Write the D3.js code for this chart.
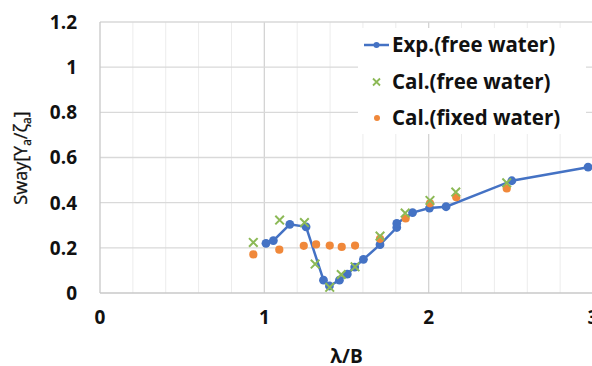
<!DOCTYPE html>
<html>
<head>
<meta charset="utf-8">
<script src="https://cdn.jsdelivr.net/npm/d3@7"></script>
<style>
  body { margin: 0; background: #fff; }
  svg text { font-family: "Open Sans", "Noto Sans", sans-serif; }
</style>
</head>
<body>
<div id="chart"></div>
<script>
// values
var expX = [1.01, 1.055, 1.155, 1.254, 1.36, 1.396, 1.457, 1.505, 1.55, 1.603, 1.704, 1.806, 1.806, 1.902, 2.005, 2.106, 2.506, 2.97]
var expY = [0.22, 0.232, 0.304, 0.293, 0.057, 0.031, 0.057, 0.084, 0.115, 0.149, 0.214, 0.29, 0.308, 0.356, 0.376, 0.382, 0.497, 0.557]

var calFreeX = [0.933, 1.093, 1.244, 1.309, 1.398, 1.468, 1.552, 1.704, 1.857, 2.008, 2.165, 2.475]
var calFreeY = [0.224, 0.323, 0.312, 0.128, 0.025, 0.082, 0.116, 0.252, 0.354, 0.41, 0.447, 0.488]

var calFixedX = [0.933, 1.091, 1.24, 1.315, 1.398, 1.471, 1.552, 1.704, 1.86, 2.008, 2.168, 2.475]
var calFixedY = [0.171, 0.192, 0.209, 0.215, 0.21, 0.204, 0.21, 0.24, 0.33, 0.397, 0.424, 0.463]

var xTicks = [0, 1, 2, 3]
var yTicks = [0, 0.2, 0.4, 0.6, 0.8, 1, 1.2]
var seriesNames = ["Exp.(free water)", "Cal.(free water)", "Cal.(fixed water)"]

var width = 592, height = 366
var margin = {top: 22, right: -1, bottom: 73, left: 100}
var blue = "#4472c4", green = "#8cb956", orange = "#f0883a"

var svg = d3.select("#chart")
  .append("svg")
  .attr("width", width)
  .attr("height", height)

var xScale = d3.scaleLinear()
  .domain([0, 3])
  .range([margin.left, width - margin.right])

var yScale = d3.scaleLinear()
  .domain([0, 1.2])
  .range([height - margin.bottom, margin.top])

// minor vertical grid every 0.2
var minorX = d3.range(0, 3.01, 0.2).filter(d => Math.abs(d - Math.round(d)) > 0.01)
svg.append("g").selectAll("line")
  .data(minorX)
  .enter().append("line")
  .attr("x1", d => xScale(d)).attr("x2", d => xScale(d))
  .attr("y1", yScale(0)).attr("y2", yScale(1.2))
  .attr("stroke", "#ececec")
  .attr("stroke-width", 1)

// major vertical grid
svg.append("g").selectAll("line")
  .data(xTicks.slice(1))
  .enter().append("line")
  .attr("x1", d => xScale(d)).attr("x2", d => xScale(d))
  .attr("y1", yScale(0)).attr("y2", yScale(1.2))
  .attr("stroke", "#d4d4d4")
  .attr("stroke-width", 1.3)

// horizontal grid
svg.append("g").selectAll("line")
  .data(yTicks.slice(1))
  .enter().append("line")
  .attr("x1", xScale(0)).attr("x2", xScale(3))
  .attr("y1", d => yScale(d)).attr("y2", d => yScale(d))
  .attr("stroke", "#d9d9d9")
  .attr("stroke-width", 1.3)

// axes lines
svg.append("line")
  .attr("x1", xScale(0)).attr("x2", xScale(3))
  .attr("y1", yScale(0)).attr("y2", yScale(0))
  .attr("stroke", "#c8c8c8").attr("stroke-width", 1.3)
svg.append("line")
  .attr("x1", xScale(0)).attr("x2", xScale(0))
  .attr("y1", yScale(0)).attr("y2", yScale(1.2))
  .attr("stroke", "#c8c8c8").attr("stroke-width", 1.3)

// tick labels
svg.append("g").selectAll("text")
  .data(yTicks)
  .enter().append("text")
  .attr("x", 77)
  .attr("y", d => yScale(d))
  .attr("dy", "0.36em")
  .attr("text-anchor", "end")
  .style("font-size", "19px")
  .style("font-weight", "bold")
  .attr("fill", "#111")
  .text(d => d3.format("~g")(d))

svg.append("g").selectAll("text")
  .data(xTicks)
  .enter().append("text")
  .attr("x", d => xScale(d))
  .attr("y", 317)
  .attr("dy", "0.36em")
  .attr("text-anchor", "middle")
  .style("font-size", "19px")
  .style("font-weight", "bold")
  .attr("fill", "#111")
  .text(d => d)

// axis titles
svg.append("text")
  .attr("x", (xScale(0) + xScale(3)) / 2)
  .attr("y", 363)
  .attr("text-anchor", "middle")
  .style("font-size", "19px")
  .style("font-weight", "bold")
  .attr("fill", "#111")
  .text("λ/B")

var yTitle = svg.append("text")
  .attr("transform", `translate(27,158) rotate(-90)`)
  .attr("text-anchor", "middle")
  .style("font-size", "18px")
  .attr("fill", "#111")
  .attr("stroke", "#111")
  .attr("stroke-width", 0.3)
yTitle.append("tspan").text("Sway[Y")
yTitle.append("tspan").attr("dy", 4).style("font-size", "12px").text("a")
yTitle.append("tspan").attr("dy", -4).text("/ζ")
yTitle.append("tspan").attr("dy", 4).style("font-size", "12px").text("a")
yTitle.append("tspan").attr("dy", -4).text("]")

// legend background
svg.append("rect")
  .attr("x", 358).attr("y", 28)
  .attr("width", 228).attr("height", 106)
  .attr("fill", "#fff")

var expData = expX.map((d, i) => ({x: d, y: expY[i]}))
var freeData = calFreeX.map((d, i) => ({x: d, y: calFreeY[i]}))
var fixedData = calFixedX.map((d, i) => ({x: d, y: calFixedY[i]}))

var line = d3.line()
  .x(d => xScale(d.x))
  .y(d => yScale(d.y))

svg.append("path")
  .datum(expData)
  .attr("d", line)
  .attr("fill", "none")
  .attr("stroke", blue)
  .attr("stroke-width", 2.5)

svg.selectAll(".exp")
  .data(expData)
  .enter().append("circle")
  .attr("class", "exp")
  .attr("cx", d => xScale(d.x))
  .attr("cy", d => yScale(d.y))
  .attr("r", 4.4)
  .attr("fill", blue)

svg.selectAll(".fixed")
  .data(fixedData)
  .enter().append("circle")
  .attr("class", "fixed")
  .attr("cx", d => xScale(d.x))
  .attr("cy", d => yScale(d.y))
  .attr("r", 4.1)
  .attr("fill", orange)

var xs = 4.3
svg.selectAll(".free")
  .data(freeData)
  .enter().append("path")
  .attr("class", "free")
  .attr("d", d => {
    var cx = xScale(d.x), cy = yScale(d.y)
    return `M${cx - xs},${cy - xs}L${cx + xs},${cy + xs}M${cx - xs},${cy + xs}L${cx + xs},${cy - xs}`
  })
  .attr("stroke", green)
  .attr("stroke-width", 2)
  .attr("fill", "none")

// legend
var legendY = [45, 82, 118]
var lg = svg.append("g")
lg.append("line")
  .attr("x1", 364).attr("x2", 389)
  .attr("y1", legendY[0]).attr("y2", legendY[0])
  .attr("stroke", blue).attr("stroke-width", 2.5)
lg.append("circle").attr("cx", 376.5).attr("cy", legendY[0]).attr("r", 3).attr("fill", blue)
lg.append("path")
  .attr("d", `M${373},${legendY[1] - 3.5}L${380},${legendY[1] + 3.5}M${373},${legendY[1] + 3.5}L${380},${legendY[1] - 3.5}`)
  .attr("stroke", green).attr("stroke-width", 1.8)
lg.append("circle").attr("cx", 377).attr("cy", legendY[2]).attr("r", 3).attr("fill", orange)

lg.selectAll("text")
  .data(seriesNames)
  .enter().append("text")
  .attr("x", 392)
  .attr("y", (d, i) => legendY[i])
  .attr("dy", "0.36em")
  .style("font-size", "20.5px")
  .style("font-weight", "bold")
  .attr("fill", "#111")
  .text(d => d)
</script>
</body>
</html>
